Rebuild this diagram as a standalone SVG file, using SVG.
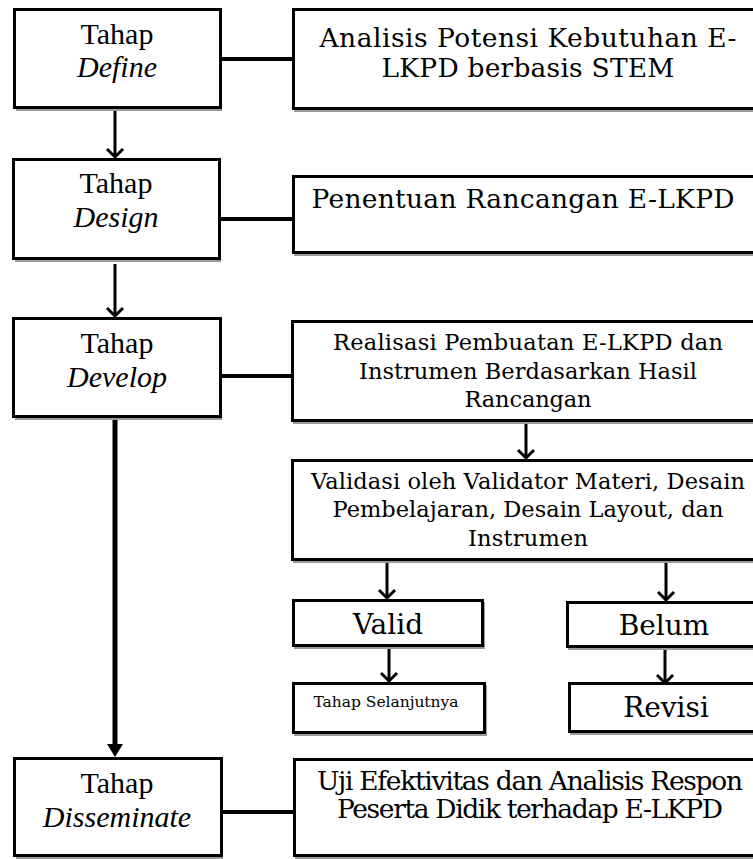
<svg xmlns="http://www.w3.org/2000/svg" width="753" height="859" viewBox="0 0 753 859">
<defs>
<style>
.box{fill:#fff;stroke:#000;stroke-width:3}
.shadow{fill:#9a9a9a}
.conn{stroke:#000;stroke-width:4;fill:none}
.arr{stroke:#000;stroke-width:3;fill:none}
.tl{font-family:"Liberation Serif","Times New Roman",serif;font-size:30px;fill:#000;text-anchor:middle}
.it{font-style:italic}
.tr{font-family:"DejaVu Serif",Georgia,serif;fill:#000;text-anchor:middle}
</style>
</defs>
<rect width="753" height="859" fill="#fff"/>

<g id="connectors">
<line class="conn" x1="221" y1="59" x2="293" y2="59"/>
<line class="conn" x1="221" y1="219" x2="293" y2="219"/>
<line class="conn" x1="221" y1="376" x2="292" y2="376"/>
<line class="conn" x1="221" y1="812" x2="294" y2="812"/>
<path class="arr" d="M115,110 V157"/>
<path d="M107,149 L115,157 L123,149" class="arr"/>
<path class="arr" d="M115,264 V316"/>
<path d="M107,308 L115,316 L123,308" class="arr"/>
<path d="M115,419 V745" stroke="#000" stroke-width="5" fill="none"/>
<path d="M107,744 L123,744 L115,757 Z" fill="#000"/>
<path class="arr" d="M526,423 V458"/>
<path d="M518,450 L526,458 L534,450" class="arr"/>
<path class="arr" d="M387,562 V598"/>
<path d="M379,590 L387,598 L395,590" class="arr"/>
<path class="arr" d="M666,562 V600"/>
<path d="M658,592 L666,600 L674,592" class="arr"/>
<path class="arr" d="M389,648 V681"/>
<path d="M381,673 L389,681 L397,673" class="arr"/>
<path class="arr" d="M665,649 V683"/>
<path d="M657,675 L665,683 L673,675" class="arr"/>
</g>

<g id="define">
<rect class="shadow" x="16" y="11" width="206" height="100"/>
<rect class="box" x="14.5" y="9.5" width="206" height="98"/>
<text class="tl" x="117" y="44">Tahap</text>
<text class="tl it" x="117" y="77">Define</text>
</g>
<g id="design">
<rect class="shadow" x="15" y="161" width="206" height="101"/>
<rect class="box" x="13.5" y="159.5" width="206" height="99"/>
<text class="tl" x="116" y="193">Tahap</text>
<text class="tl it" x="116" y="227">Design</text>
</g>
<g id="develop">
<rect class="shadow" x="15" y="320" width="207" height="100"/>
<rect class="box" x="13.5" y="318.5" width="207" height="98"/>
<text class="tl" x="117" y="353">Tahap</text>
<text class="tl it" x="117" y="387">Develop</text>
</g>
<g id="disseminate">
<rect class="shadow" x="16" y="760" width="207" height="99"/>
<rect class="box" x="14.5" y="758.5" width="207" height="97"/>
<text class="tl" x="117" y="793">Tahap</text>
<text class="tl it" x="117" y="827">Disseminate</text>
</g>

<g id="analisis">
<rect class="shadow" x="294" y="11" width="470" height="101"/>
<rect class="box" x="293.5" y="9.5" width="470" height="99"/>
<text class="tr" font-size="26.5" x="528" y="47" textLength="417" lengthAdjust="spacing">Analisis Potensi Kebutuhan E-</text>
<text class="tr" font-size="26.5" x="528" y="77" textLength="293" lengthAdjust="spacing">LKPD berbasis STEM</text>
</g>
<g id="penentuan">
<rect class="shadow" x="294" y="178" width="470" height="78"/>
<rect class="box" x="293.5" y="176.5" width="470" height="76"/>
<text class="tr" font-size="26.5" x="523" y="208" textLength="423" lengthAdjust="spacing">Penentuan Rancangan E-LKPD</text>
</g>
<g id="realisasi">
<rect class="shadow" x="293" y="323" width="470" height="101"/>
<rect class="box" x="292.5" y="321.5" width="470" height="99"/>
<text class="tr" font-size="22.5" x="528" y="350" textLength="390" lengthAdjust="spacing">Realisasi Pembuatan E-LKPD dan</text>
<text class="tr" font-size="22.5" x="528" y="379" textLength="338" lengthAdjust="spacing">Instrumen Berdasarkan Hasil</text>
<text class="tr" font-size="22.5" x="528" y="407" textLength="127" lengthAdjust="spacing">Rancangan</text>
</g>
<g id="validasi">
<rect class="shadow" x="293" y="462" width="470" height="101"/>
<rect class="box" x="292.5" y="460.5" width="470" height="99"/>
<text class="tr" font-size="22.5" x="528" y="489" textLength="434" lengthAdjust="spacing">Validasi oleh Validator Materi, Desain</text>
<text class="tr" font-size="22.5" x="528" y="517" textLength="391" lengthAdjust="spacing">Pembelajaran, Desain Layout, dan</text>
<text class="tr" font-size="22.5" x="528" y="546" textLength="120" lengthAdjust="spacing">Instrumen</text>
</g>
<g id="valid">
<rect class="shadow" x="294" y="602" width="191" height="47"/>
<rect class="box" x="293.5" y="600.5" width="189" height="45"/>
<text class="tr" font-size="28" x="388" y="634">Valid</text>
</g>
<g id="belum">
<rect class="shadow" x="568" y="604" width="190" height="46"/>
<rect class="box" x="567.5" y="602.5" width="190" height="44"/>
<text class="tr" font-size="28" x="664" y="635">Belum</text>
</g>
<g id="selanjutnya">
<rect class="shadow" x="294" y="685" width="193" height="51"/>
<rect class="box" x="293.5" y="683.5" width="191" height="49"/>
<text class="tr" font-size="15.5" x="386" y="707" textLength="145" lengthAdjust="spacing">Tahap Selanjutnya</text>
</g>
<g id="revisi">
<rect class="shadow" x="570" y="685" width="190" height="50"/>
<rect class="box" x="569.5" y="683.5" width="190" height="48"/>
<text class="tr" font-size="28" x="666" y="717">Revisi</text>
</g>
<g id="uji">
<rect class="shadow" x="295" y="761" width="470" height="98"/>
<rect class="box" x="294.5" y="759.5" width="470" height="96"/>
<text class="tr" font-size="26.5" x="530" y="790" textLength="426" lengthAdjust="spacing">Uji Efektivitas dan Analisis Respon</text>
<text class="tr" font-size="26.5" x="530" y="818" textLength="386" lengthAdjust="spacing">Peserta Didik terhadap E-LKPD</text>
</g>
</svg>
